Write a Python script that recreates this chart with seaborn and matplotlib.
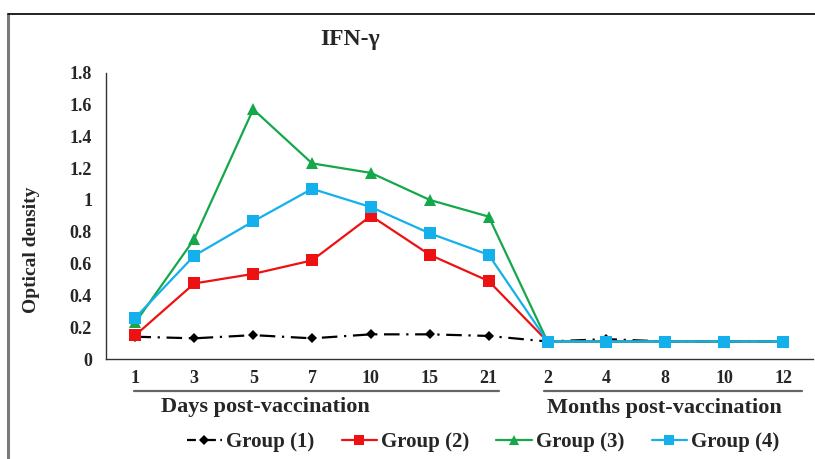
import numpy as np
import pandas as pd
import matplotlib
matplotlib.use("Agg")
import matplotlib.pyplot as plt
from matplotlib.lines import Line2D
import seaborn as sns

# Sampling times: days then months after vaccination
time_labels = ["1", "3", "5", "7", "10", "15", "21", "2", "4", "8", "10", "12"]
groups = ["Group (1)", "Group (2)", "Group (3)", "Group (4)"]

group1 = [0.14, 0.13, 0.15, 0.13, 0.155, 0.155, 0.145, 0.11, 0.125, 0.11, 0.11, 0.11]
group2 = [0.15, 0.475, 0.535, 0.62, 0.90, 0.655, 0.49, 0.11, 0.11, 0.11, 0.11, 0.11]
group3 = [0.23, 0.755, 1.57, 1.23, 1.17, 1.00, 0.895, 0.11, 0.11, 0.11, 0.11, 0.11]
group4 = [0.26, 0.65, 0.865, 1.07, 0.955, 0.79, 0.655, 0.11, 0.11, 0.11, 0.11, 0.11]

yticks = [0, 0.2, 0.4, 0.6, 0.8, 1, 1.2, 1.4, 1.6, 1.8]
ytick_labels = ["0", "0.2", "0.4", "0.6", "0.8", "1", "1.2", "1.4", "1.6", "1.8"]

colors = {"Group (1)": "#000000", "Group (2)": "#EE1111",
          "Group (3)": "#14A84A", "Group (4)": "#14B0EC"}
markers = {"Group (1)": "D", "Group (2)": "s", "Group (3)": "^", "Group (4)": "s"}
dashes = {"Group (1)": (7, 3, 1, 3), "Group (2)": "", "Group (3)": "", "Group (4)": ""}

pos = np.arange(len(time_labels))
frames = []
for name, vals in zip(groups, [group1, group2, group3, group4]):
    frames.append(pd.DataFrame({"pos": pos, "od": vals, "group": name}))
df = pd.concat(frames, ignore_index=True)

sns.set_style("white")
plt.rcParams["font.family"] = ["Liberation Serif", "DejaVu Serif"]
plt.rcParams["font.weight"] = "bold"

fig = plt.figure(figsize=(8.15, 4.59), dpi=100)
W, H = 815, 459
ax = fig.add_axes([106 / W, 1 - 359 / H, (812.5 - 106) / W, (359 - 72.7) / H])

sns.lineplot(data=df, x="pos", y="od", hue="group", style="group",
             palette=colors, markers=markers, dashes=dashes,
             linewidth=1.6, markersize=8, markeredgewidth=0,
             legend=False, ax=ax, zorder=3)
# smaller diamonds for the control group
for line in ax.lines:
    if line.get_marker() == "D":
        line.set_markersize(5.5)

ax.set_xlim(-0.5, 11.5)
ax.set_ylim(0, 1.8)
ax.set_xticks(pos)
ax.set_xticklabels(time_labels, fontsize=13, fontweight="bold")
ax.set_xticks(np.arange(-0.5, 12, 1), minor=True)
ax.tick_params(axis="x", which="major", length=0, pad=8)
ax.tick_params(axis="x", which="minor", length=5, width=1, direction="out", color="#333333")
ax.set_yticks(yticks)
ax.set_yticklabels(ytick_labels, fontsize=13, fontweight="bold")
ax.tick_params(axis="y", length=5, width=1, direction="out", color="#333333", pad=5)
ax.set_xlabel("")
ax.set_ylabel("")
for side in ["top", "right"]:
    ax.spines[side].set_visible(False)
for side in ["left", "bottom"]:
    ax.spines[side].set_color("#333333")
    ax.spines[side].set_linewidth(1.0)

# Titles and axis labels
fig.text(350 / W, 1 - 40 / H, "IFN-γ", ha="center", va="center",
         fontsize=17, fontweight="bold")
fig.text(32 / W, 1 - 250 / H, "Optical density", ha="center", va="center",
         rotation=90, fontsize=14, fontweight="bold")

# Period brackets under the time axis
fig.add_artist(Line2D([134 / W, 499 / W], [1 - 391 / H] * 2, color="#666666", lw=1.6))
fig.add_artist(Line2D([544 / W, 802 / W], [1 - 391 / H] * 2, color="#666666", lw=1.6))
fig.text(265 / W, 1 - 407 / H, "Days post-vaccination", ha="center", va="center",
         fontsize=16, fontweight="bold")
fig.text(664 / W, 1 - 408 / H, "Months post-vaccination", ha="center", va="center",
         fontsize=16, fontweight="bold")

# Legend
handles = []
for name in groups:
    handles.append(Line2D([], [], color=colors[name], marker=markers[name],
                          markersize=5 if name == "Group (1)" else 7,
                          markeredgewidth=0, lw=1.6,
                          dashes=(4, 2, 1, 2) if dashes[name] else (None, None)))
fig.legend(handles, groups, loc="center", bbox_to_anchor=(483 / W, 1 - 442 / H),
           ncol=4, frameon=False, handlelength=1.7, handletextpad=0.2,
           columnspacing=1.3, prop={"size": 15, "weight": "bold"})

# Outer frame
fig.add_artist(Line2D([7.5 / W, 7.5 / W], [0, 1 - 14 / H], color="#7a7a7a", lw=2.2))
fig.add_artist(Line2D([7.5 / W, 1], [1 - 14 / H] * 2, color="#111111", lw=1.3))

fig.savefig("out.png", dpi=100)
